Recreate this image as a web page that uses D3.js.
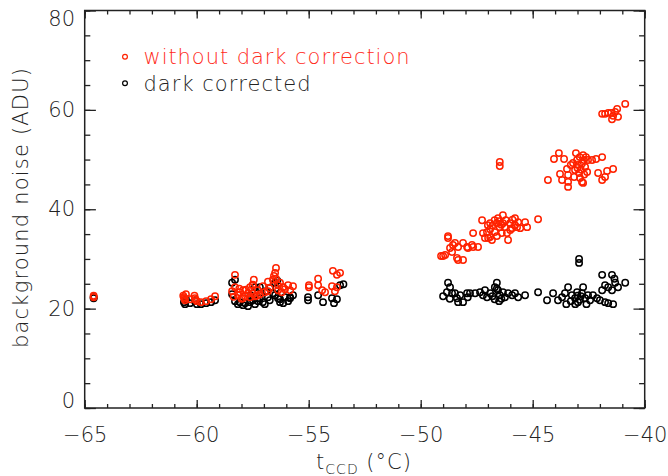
<!DOCTYPE html>
<html><head><meta charset="utf-8">
<script src="https://cdn.jsdelivr.net/npm/d3@7"></script>
<style>
body{margin:0;background:#fff}
text{font-family:"DejaVu Sans",sans-serif;font-weight:200}
</style>
</head><body>
<svg id="c" width="668" height="476"></svg>
<script>
// [t_CCD (°C), background noise (ADU)]
const withoutDark = [
 [-64.6,22.6],[-64.6,22.3],
 [-60.57,22.3],[-60.52,21.7],[-60.48,22.9],[-60.3,21.9],[-60.08,22.1],[-59.99,21.5],[-59.81,21.3],[-59.58,21.5],[-59.36,21.9],[-59.18,22.5],
 [-60.6,22.6],[-60.55,22.0],[-60.1,22.6],[-60.05,21.8],
 [-58.29,26.8],[-58.29,24.3],[-58.42,23.5],[-58.35,22.4],[-58.16,22.7],[-58.07,23.3],[-57.93,22.1],[-57.93,23.7],[-57.84,22.5],[-57.71,23.1],
 [-57.62,22.3],[-57.62,24.3],[-57.49,23.0],[-57.40,22.5],[-57.27,23.7],[-57.18,22.9],[-57.05,24.5],[-56.96,23.3],[-56.82,25.4],[-56.82,23.5],
 [-56.74,24.1],[-56.60,25.8],[-56.50,27.2],[-56.46,28.2],[-56.46,26.0],[-56.37,24.7],[-56.37,23.7],[-56.28,25.2],[-56.14,24.3],[-56.06,23.9],
 [-55.92,24.7],[-55.83,23.7],[-55.70,24.5],[-58.0,22.0],[-57.8,23.8],[-57.3,22.6],[-56.55,26.6],[-56.2,23.3],[-58.1,24.0],[-57.5,24.8],
 [-57.45,25.8],[-57.5,24.7],
 [-54.99,24.3],[-54.99,24.7],[-54.58,26.0],[-54.58,24.7],[-54.40,23.7],[-54.27,23.3],[-53.92,27.6],[-53.74,26.8],[-53.60,27.2],[-53.96,24.5],
 [-53.83,23.5],[-53.74,24.3],
 [-49.09,30.6],[-49.0,30.6],[-48.91,30.8],[-48.78,34.6],[-48.78,34.2],[-48.69,32.2],[-48.56,32.8],[-48.47,33.2],[-48.60,31.4],[-48.38,30.2],
 [-48.33,29.8],[-48.11,29.8],[-48.33,32.4],[-48.11,33.2],[-47.93,32.4],[-47.89,32.2],[-47.71,32.8],[-47.66,32.4],[-47.44,32.4],[-47.66,35.2],
 [-47.26,37.8],[-47.22,35.2],[-47.04,35.4],[-47.13,34.2],[-46.99,34.2],[-46.90,37.2],[-46.90,34.4],[-46.82,33.8],[-46.69,35.4],[-46.60,37.2],
 [-46.55,38.2],[-46.47,36.4],[-46.38,35.2],[-46.33,38.8],[-46.33,37.2],[-46.24,36.4],[-46.15,35.2],[-46.10,33.8],[-46.01,37.2],[-45.92,36.2],
 [-45.79,38.2],[-45.79,36.8],[-45.70,36.4],[-45.65,37.4],[-45.56,36.2],[-45.34,37.4],[-45.25,36.4],[-44.76,38.0],[-46.47,49.5],[-46.47,48.7],
 [-46.9,36.0],[-46.7,37.8],[-46.5,37.6],[-46.4,36.9],[-46.2,37.8],[-46.0,35.8],[-45.9,37.9],[-46.8,36.7],[-47.0,36.8],[-46.6,34.6],
 [-44.32,45.9],[-44.05,50.1],[-43.83,51.3],[-43.60,50.1],[-43.78,47.1],[-43.69,45.9],[-43.47,48.1],[-43.42,46.9],[-43.42,45.5],[-43.42,44.5],
 [-43.20,49.3],[-43.07,51.3],[-43.11,47.9],[-43.02,49.9],[-42.98,48.9],[-42.93,47.3],[-42.89,46.3],[-42.80,45.5],[-42.75,50.9],[-42.71,49.9],
 [-42.66,48.5],[-42.62,50.5],[-42.57,47.5],[-42.75,45.3],[-42.53,49.9],[-42.35,49.9],[-42.17,50.1],[-41.90,50.5],[-42.08,47.3],[-41.90,45.9],
 [-41.77,46.5],[-41.68,47.7],[-41.41,48.1],
 [-43.0,48.3],[-42.9,50.5],[-42.8,49.2],[-42.7,47.0],[-43.15,46.5],[-42.85,48.0],[-43.3,48.9],
 [-41.90,59.2],[-41.77,59.2],[-41.63,59.4],[-41.50,59.4],[-41.41,58.8],[-41.46,58.1],[-41.32,59.6],[-41.23,60.2],[-41.19,58.6],[-40.87,61.2]
];
const darkCorrected = [
 [-64.6,22.3],[-64.6,22.1],
 [-60.57,21.3],[-60.52,20.9],[-60.48,21.9],[-60.3,21.1],[-60.08,21.5],[-59.99,20.9],[-59.81,20.9],[-59.58,21.1],[-59.36,21.3],[-59.18,21.7],
 [-58.42,22.9],[-58.29,21.5],[-58.16,20.9],[-58.07,21.3],[-57.93,20.7],[-57.84,21.1],[-57.71,20.5],[-57.62,21.3],[-57.49,21.7],[-57.40,20.9],
 [-57.27,21.5],[-57.18,22.1],[-57.05,21.3],[-56.96,20.9],[-56.82,22.3],[-56.74,21.7],[-56.60,23.1],[-56.50,22.7],[-56.46,24.1],[-56.37,22.1],
 [-56.28,21.9],[-56.14,21.1],[-56.06,22.3],[-55.92,21.5],[-55.83,22.1],[-55.70,22.7],[-58.42,25.2],[-57.6,22.7],[-56.9,23.5],[-56.5,25.2],
 [-58.29,25.8],[-57.4,24.3],[-57.18,24.3],[-56.74,24.1],[-56.4,25.6],[-55.83,22.3],[-56.28,21.3],
 [-55.03,22.3],[-55.03,21.7],[-54.58,22.7],[-54.36,21.3],[-53.96,22.1],[-53.87,21.1],[-53.74,21.9],[-53.60,24.7],[-53.45,24.9],
 [-48.78,25.2],[-48.69,24.3],[-48.83,23.3],[-49.00,22.5],[-48.60,23.1],[-48.47,23.1],[-48.38,22.1],[-48.33,21.3],[-48.11,21.3],[-48.24,22.7],
 [-47.93,23.1],[-47.80,23.1],[-47.57,23.1],[-47.35,23.3],[-47.22,22.7],[-47.13,23.7],[-47.04,22.3],[-46.90,23.1],[-46.69,24.3],[-46.60,25.2],
 [-46.55,23.7],[-46.47,22.7],[-46.33,23.3],[-46.24,22.3],[-46.10,23.1],[-45.92,22.7],[-45.79,23.1],[-45.65,22.3],[-45.34,22.7],[-44.76,23.3],
 [-44.36,21.7],[-44.09,23.1],[-43.87,21.7],[-43.69,22.3],[-43.56,23.1],[-43.42,24.3],[-43.25,22.7],[-43.11,22.1],[-42.98,21.3],[-43.02,23.3],
 [-42.80,23.1],[-42.75,24.3],[-42.66,22.1],[-42.53,22.7],[-42.44,21.7],[-42.31,22.7],[-42.13,22.1],[-42.00,21.7],[-41.77,21.3],[-41.63,21.1],
 [-41.41,20.9],[-41.90,23.7],[-41.77,24.7],[-41.63,24.3],[-41.46,23.7],[-41.32,25.2],[-41.19,24.3],[-40.87,25.2],[-42.93,30.0],[-42.93,29.2],
 [-46.8,22.5],[-46.7,21.9],[-46.5,21.5],[-46.4,22.0],[-43.3,21.5],[-43.1,20.9],[-43.0,22.6],[-42.9,21.8],[-42.85,22.5],[-48.7,22.0],
 [-47.9,22.3],[-46.6,24.0],[-43.5,20.9],[-42.6,20.9],[-41.9,26.8],[-41.46,26.8],[-41.35,26.0]
];
const xTickValues = [-65,-60,-55,-50,-45,-40];
const yTickValues = [0,20,40,60,80];
const xMinorValues = d3.range(-65,-39.5,1);
const yMinorValues = d3.range(0,80.5,5);
const legendLabels = ["without dark correction","dark corrected"];
const seriesColors = ["#ff2200","#000000"];

const svg = d3.select("#c");
const L=84.7, R=644.7, T=10.5, B=408;
const x = d3.scaleLinear().domain([-65,-40]).range([L,R]);
const y = d3.scaleLinear().domain([0,80]).range([B,T]);
const axisColor = "#222";
const textColor = "#222";
const fs = 21;

function styleAxis(g){
  g.select(".domain").remove();
  g.selectAll("line").attr("stroke",axisColor).attr("stroke-width",1.3);
  g.selectAll("text").attr("fill",textColor).style("font-size",fs+"px").attr("font-family",null);
}
// minor ticks
svg.append("g").attr("transform",`translate(0,${B})`).call(d3.axisBottom(x).tickValues(xMinorValues).tickSize(-4).tickFormat("")).call(styleAxis);
svg.append("g").attr("transform",`translate(0,${T})`).call(d3.axisTop(x).tickValues(xMinorValues).tickSize(-4).tickFormat("")).call(styleAxis);
svg.append("g").attr("transform",`translate(${L},0)`).call(d3.axisLeft(y).tickValues(yMinorValues).tickSize(-5.6).tickFormat("")).call(styleAxis);
svg.append("g").attr("transform",`translate(${R},0)`).call(d3.axisRight(y).tickValues(yMinorValues).tickSize(-5.6).tickFormat("")).call(styleAxis);
// major ticks
svg.append("g").attr("transform",`translate(0,${B})`).call(d3.axisBottom(x).tickValues(xTickValues).tickSize(-8).tickPadding(19).tickFormat(d3.format("d"))).call(styleAxis);
svg.append("g").attr("transform",`translate(0,${T})`).call(d3.axisTop(x).tickValues(xTickValues).tickSize(-8).tickFormat("")).call(styleAxis);
const yl = svg.append("g").attr("transform",`translate(${L},0)`).call(d3.axisLeft(y).tickValues(yTickValues).tickSize(-11.2).tickPadding(9.7).tickFormat(d3.format("d"))).call(styleAxis);
svg.append("g").attr("transform",`translate(${R},0)`).call(d3.axisRight(y).tickValues(yTickValues).tickSize(-11.2).tickFormat("")).call(styleAxis);
// keep end labels inside plot range
yl.selectAll(".tick text").attr("transform",d=> d===80 ? "translate(0,8.5)" : d===0 ? "translate(0,-7.3)" : null);

// frame
svg.append("rect").attr("x",L).attr("y",T).attr("width",R-L).attr("height",B-T)
  .attr("fill","none").attr("stroke",axisColor).attr("stroke-width",1.5);

// data
const series = [withoutDark, darkCorrected];
[1,0].forEach(i=>{
  svg.append("g").selectAll("circle").data(series[i]).join("circle")
    .attr("cx",d=>x(d[0])).attr("cy",d=>y(d[1])).attr("r",3.2)
    .attr("fill","none").attr("stroke",seriesColors[i]).attr("stroke-width",1.5);
});

// legend
const legendWidths = [266, 167];
legendLabels.forEach((lab,i)=>{
  const yy = 56.7 + i*26.5;
  svg.append("circle").attr("cx",125).attr("cy",yy).attr("r",2.4)
    .attr("fill","none").attr("stroke",seriesColors[i]).attr("stroke-width",1.2);
  svg.append("text").attr("x",143.5).attr("y",64+i*27).attr("fill",i===0?"#ff2a1a":textColor)
    .attr("textLength",legendWidths[i]).attr("lengthAdjust","spacing")
    .style("font-size",fs+"px").text(lab);
});

// axis titles
svg.append("text").attr("transform","translate(28,208) rotate(-90)").attr("text-anchor","middle")
  .attr("textLength",280).attr("lengthAdjust","spacing")
  .attr("fill",textColor).style("font-size",fs+"px").text("background noise (ADU)");
const xt = svg.append("text").attr("x",364).attr("y",469).attr("text-anchor","middle")
  .attr("fill",textColor).style("font-size",fs+"px").style("letter-spacing","1px");
xt.append("tspan").text("t");
xt.append("tspan").attr("dy",5).style("font-size","14px").text("CCD");
xt.append("tspan").attr("dy",-5).text(" (°C)");
</script>
</body></html>
